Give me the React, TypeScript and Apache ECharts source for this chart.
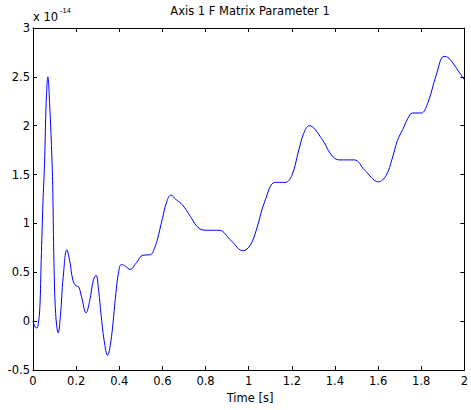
import React, { useEffect, useRef } from "react";
import * as echarts from "echarts";

const timeValues = [
  0.0, 0.01, 0.018, 0.025, 0.032, 0.038, 0.046, 0.054, 0.061, 0.069, 0.077, 0.088, 0.092, 0.097,
  0.105, 0.117, 0.127, 0.14, 0.157, 0.17, 0.185, 0.2, 0.212, 0.225, 0.246, 0.262, 0.28, 0.292,
  0.305, 0.315, 0.33, 0.346, 0.358, 0.369, 0.384, 0.396, 0.41, 0.43, 0.45, 0.48, 0.51, 0.545,
  0.562, 0.576, 0.6, 0.62, 0.639, 0.665, 0.693, 0.73, 0.77, 0.81, 0.862, 0.92, 0.974, 1.008,
  1.035, 1.077, 1.123, 1.169, 1.2, 1.23, 1.255, 1.281, 1.338, 1.384, 1.42, 1.49, 1.538, 1.602,
  1.637, 1.665, 1.69, 1.714, 1.737, 1.76, 1.8, 1.83, 1.87, 1.906, 1.929, 1.975, 2.0,
];
const paramValues = [
  0.0, -0.06, -0.07, -0.02, 0.15, 0.62, 1.2, 1.65, 2.23, 2.5, 2.23, 1.65, 1.31, 0.62,
  0.08, -0.12, 0.05, 0.45, 0.73, 0.62, 0.42, 0.36, 0.35, 0.25, 0.085, 0.2, 0.42, 0.47,
  0.3, 0.08, -0.2, -0.35, -0.25, -0.06, 0.28, 0.49, 0.58, 0.56, 0.53, 0.6, 0.675, 0.68,
  0.74, 0.83, 1.05, 1.22, 1.29, 1.24, 1.19, 1.07, 0.95, 0.93, 0.93, 0.82, 0.72, 0.78,
  0.93, 1.24, 1.42, 1.42, 1.49, 1.73, 1.92, 2.0, 1.87, 1.7, 1.65, 1.65, 1.545, 1.426,
  1.49, 1.66, 1.85, 1.96, 2.07, 2.13, 2.13, 2.23, 2.52, 2.71, 2.69, 2.55, 2.47,
];

const titleText = "Axis 1 F Matrix Parameter 1";
const xAxisName = "Time [s]";
const scaleBase = "x 10";
const scaleExp = "-14";

const FONT = "'DejaVu Sans', sans-serif";
const FS = 11.5;

export default function App() {
  const ref = useRef<HTMLDivElement>(null);
  useEffect(() => {
    if (!ref.current) return;
    const chart = echarts.init(ref.current, undefined, { renderer: "svg" });
    const data = timeValues.map((t, i) => [t, paramValues[i]]);
    const axisCommon = {
      type: "value" as const,
      axisLine: { show: true, onZero: false, lineStyle: { color: "#000", width: 1 } },
      axisTick: { show: true, inside: true, length: 4, lineStyle: { color: "#000" } },
      splitLine: { show: false },
    };
    chart.setOption({
      animation: false,
      backgroundColor: "#fff",
      grid: { left: 33, right: 4, top: 28, bottom: 40, containLabel: false },
      xAxis: [
        {
          ...axisCommon,
          min: 0,
          max: 2,
          interval: 0.2,
          position: "bottom",
          axisLabel: { color: "#000", fontSize: FS, fontFamily: FONT, margin: 5 },
        },
        {
          ...axisCommon,
          min: 0,
          max: 2,
          interval: 0.2,
          position: "top",
          axisLabel: { show: false },
        },
      ],
      yAxis: [
        {
          ...axisCommon,
          min: -0.5,
          max: 3,
          interval: 0.5,
          position: "left",
          axisLabel: { color: "#000", fontSize: FS, fontFamily: FONT, margin: 3 },
        },
        {
          ...axisCommon,
          min: -0.5,
          max: 3,
          interval: 0.5,
          position: "right",
          axisLabel: { show: false },
        },
      ],
      series: [
        {
          type: "line",
          data,
          smooth: 0.4,
          showSymbol: false,
          symbol: "none",
          lineStyle: { color: "#0000ff", width: 1 },
          xAxisIndex: 0,
          yAxisIndex: 0,
        },
      ],
      graphic: [
        {
          type: "text",
          x: 250,
          y: 11,
          style: {
            text: titleText,
            fill: "#000",
            font: `${FS}px ${FONT}`,
            align: "center",
            verticalAlign: "middle",
          },
        },
        {
          type: "text",
          x: 250,
          y: 398,
          style: {
            text: xAxisName,
            fill: "#000",
            font: `${FS}px ${FONT}`,
            align: "center",
            verticalAlign: "middle",
          },
        },
        {
          type: "text",
          x: 33,
          y: 17,
          style: {
            text: scaleBase,
            fill: "#000",
            font: `${FS}px ${FONT}`,
            align: "left",
            verticalAlign: "middle",
          },
        },
        {
          type: "text",
          x: 60,
          y: 10,
          style: {
            text: scaleExp,
            fill: "#000",
            font: `7.5px 'Liberation Sans', Arial, sans-serif`,
            align: "left",
            verticalAlign: "middle",
          },
        },
      ],
    });
    return () => chart.dispose();
  }, []);
  return (
    <div
      ref={ref}
      style={{ position: "fixed", left: 0, top: 0, width: 471, height: 410 }}
    />
  );
}
